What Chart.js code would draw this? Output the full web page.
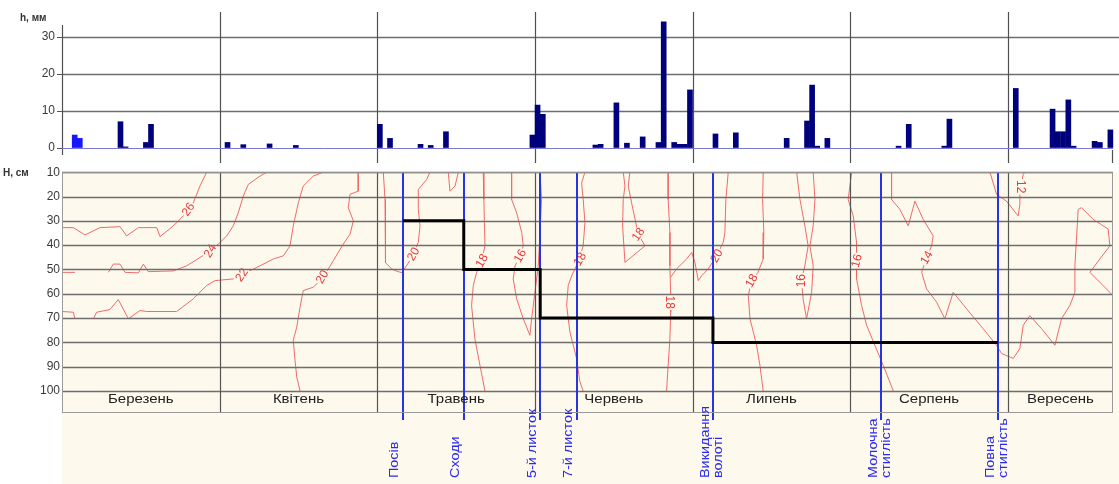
<!DOCTYPE html>
<html><head><meta charset="utf-8">
<script src="https://cdn.jsdelivr.net/npm/chart.js@4.4.1/dist/chart.umd.min.js"></script>
<style>
html,body{margin:0;padding:0;background:#fff;}
#wrap{position:relative;width:1119px;height:484px;overflow:hidden;}
.box{position:absolute;left:0;width:1119px;}
</style></head><body>
<div id="wrap">
 <div class="box" style="top:0;height:165px"><canvas id="c1"></canvas></div>
 <div class="box" style="top:163px;height:321px"><canvas id="c2"></canvas></div>
</div>
<script>
// ---------------- DATA ----------------
const months = ['Березень','Квітень','Травень','Червень','Липень','Серпень','Вересень'];
const monthDays = [31,30,31,30,31,31,30];
const lastDay = '09-20';
const rainTicks = [0,10,20,30];
const depthTicks = [10,20,30,40,50,60,70,80,90,100];

const rainDates = ['03-03','03-04','03-12','03-13','03-17','03-18','04-02','04-05','04-10','04-15',
 '05-01','05-03','05-09','05-11','05-14','05-31','06-01','06-02','06-12','06-13','06-16','06-18',
 '06-21','06-24','06-25','06-27','06-28','06-29','06-30','07-05','07-09','07-19','07-23','07-24',
 '07-25','07-27','08-10','08-12','08-19','08-20','09-02','09-09','09-10','09-11','09-12','09-13',
 '09-17','09-18','09-20'];
const rainMm = [3.5,2.6,7.1,0.3,1.5,6.4,1.5,0.9,1.1,0.7,
 6.4,2.6,1.0,0.7,4.4,3.5,11.6,9.1,0.8,1.0,12.2,1.3,
 3.0,1.5,34.1,1.5,1.0,1.0,15.7,3.8,4.1,2.6,7.3,17.0,
 0.5,2.6,0.5,6.4,0.5,7.8,16.1,10.5,4.4,4.4,13.0,0.5,
 1.8,1.5,4.9];
const snowDates = ['03-03','03-04'];

const stageNames = ['Посів','Сходи','5-й листок','7-й листок','Викидання\nволоті','Молочна\nстиглість','Повна\nстиглість'];
const stageDates = ['05-06','05-18','06-02','06-09','07-05','08-07','08-30'];

const rootDates = ['05-06','05-18','06-02','07-05','08-30'];
const rootDepth = [30,50,70,80,80];

// isolines: [month position, depth cm]
const iso26 = [[0,32.8],[0.072,32.8],[0.146,35.8],[0.241,32.8],[0.368,32.4],[0.410,36.2],[0.484,32.8],[0.601,32.8],[0.622,36.5],[0.706,32.1],[0.769,28.0],[0.833,22.6],[0.875,15.7],[0.918,10]];
const iso24a = [[0,51.2],[0.082,51.2]];
const iso24 = [[0.294,51.2],[0.325,47.8],[0.368,47.8],[0.400,51.2],[0.484,51.4],[0.516,47.8],[0.547,50.9],[0.706,50.6],[0.791,48.5],[0.875,45.1],[0.939,42.3],[0.991,39.6],[1.045,36.2],[1.086,32.1],[1.118,26.7],[1.150,19.8],[1.182,15.0],[1.256,11.6],[1.298,10]];
const iso22a = [[0,67.3],[0.072,67.6],[0.082,70.3]];
const iso22 = [[0.199,70.3],[0.220,67.6],[0.304,66.5],[0.357,62.4],[0.421,70.3],[0.495,66.9],[0.537,67.3],[0.727,67.3],[0.833,62.1],[0.918,56.6],[0.970,54.6],[1.086,53.9],[1.171,51.2],[1.256,48.5],[1.340,45.7],[1.404,44.4],[1.446,40.3],[1.467,32.1],[1.499,22.6],[1.530,15.7],[1.594,11.6],[1.657,10]];
const iso20a = [[1.879,10],[1.879,17.8],[1.827,19.1],[1.816,24.6],[1.848,30.0],[1.827,35.5],[1.784,39.6],[1.721,46.4],[1.657,53.2],[1.594,57.3],[1.530,58.7],[1.510,65.5],[1.489,73.7],[1.467,79.1],[1.478,87.3],[1.489,94.2],[1.510,100]];
const iso20b = [[2.038,10],[2.049,21.2],[2.049,34.8],[2.055,47.2],[2.091,49.8],[2.131,50.9],[2.156,51.3],[2.194,47.6],[2.220,44.8],[2.260,38.9],[2.271,32.1],[2.260,25.3],[2.260,17.1],[2.313,13.0],[2.334,10]];
const isoSmall = [[2.450,10],[2.461,17.8],[2.493,15.7],[2.514,10]];
const iso18a = [[2.672,10],[2.676,21.2],[2.683,40.3],[2.662,46.4],[2.630,51.2],[2.609,56.6],[2.598,64.8],[2.619,78.5],[2.651,89.4],[2.683,100]];
const iso16a = [[2.852,10],[2.852,21.2],[2.884,26.7],[2.916,34.8],[2.926,40.3],[2.905,44.4],[2.874,48.5],[2.862,53.9],[2.884,62.1],[2.926,70.3],[2.968,77.1],[2.979,70.3],[3.000,59.4],[3.021,48.5],[3.032,34.8],[3.042,21.2],[3.032,10]];
const iso18b = [[3.317,10],[3.296,14.4],[3.306,21.2],[3.317,30.7],[3.306,40.3],[3.273,47.2],[3.233,52.6],[3.211,56.6],[3.201,64.8],[3.222,75.8],[3.264,86.6],[3.285,96.2],[3.306,100]];
const iso18c = [[3.560,10],[3.571,15.7],[3.560,21.2],[3.556,32.1],[3.571,47.1],[3.698,40.3],[3.655,35.5],[3.613,22.6],[3.592,15.7],[3.602,10]];
const iso18d = [[3.845,10],[3.845,21.2],[3.856,34.8],[3.856,48.5],[3.861,60.7],[3.861,67.6],[3.856,78.5],[3.845,89.4],[3.835,100]];
const iso20c = [[3.861,53.2],[3.898,49.8],[3.962,45.7],[3.994,43.0],[4.015,47.1],[4.036,54.6],[4.057,52.6],[4.099,49.8],[4.152,44.4],[4.194,38.9],[4.205,34.8],[4.211,21.2],[4.226,10]];
const iso18e = [[4.448,10],[4.444,21.2],[4.452,34.8],[4.448,45.7],[4.414,51.3],[4.374,54.6],[4.353,60.7],[4.364,70.3],[4.406,81.2],[4.427,89.4],[4.448,100]];
const iso16b = [[4.660,10],[4.681,21.2],[4.712,32.1],[4.733,40.3],[4.712,48.5],[4.691,54.6],[4.701,62.1],[4.723,70.3],[4.755,59.4],[4.765,48.5],[4.744,40.3],[4.765,32.1],[4.776,21.2],[4.765,10]];
const iso16c = [[5.009,10],[4.987,21.2],[5.019,28.0],[5.040,38.9],[5.040,46.4],[5.040,53.9],[5.072,64.8],[5.104,73.0],[5.156,81.2],[5.209,89.4],[5.273,100]];
const iso14 = [[5.262,10],[5.262,21.2],[5.315,25.3],[5.368,32.1],[5.410,21.9],[5.463,29.4],[5.526,36.2],[5.516,40.3],[5.484,45.1],[5.453,51.2],[5.484,58.0],[5.548,63.5],[5.600,70.3],[5.653,59.4],[5.738,66.2],[5.843,74.4],[5.928,81.2],[5.960,84.6],[6.034,86.6],[6.076,82.5],[6.097,73.0],[6.139,69.0],[6.214,74.4],[6.298,81.2],[6.340,70.3],[6.393,64.8],[6.425,59.4],[6.425,48.5],[6.446,25.3],[6.467,24.6],[6.541,29.4],[6.636,33.4],[6.647,40.3],[6.583,45.7],[6.520,51.2],[6.604,56.6],[6.667,60.8]];
const iso12 = [[5.886,10],[5.928,19.1],[5.991,21.9],[6.065,28.0],[6.076,23.2],[6.076,19.1],[6.097,10.9],[6.108,10]];

const isoLabelText  = ['26','24','22','20','20','18','16','18','18','18','20','18','16','16','14','12'];
const isoLabelX     = [0.80,0.939,1.14,1.65,2.228,2.662,2.905,3.285,3.655,3.858,4.152,4.374,4.691,5.040,5.484,6.080];
const isoLabelDepth = [25.3,42.3,52.2,53.0,43.7,46.4,44.4,45.7,35.5,63.5,44.4,54.6,54.6,46.4,45.1,16.0];

// ---------------- HELPERS / STYLE ----------------
const isolines = [iso26,iso24a,iso24,iso22a,iso22,iso20a,iso20b,isoSmall,iso18a,iso16a,iso18b,iso18c,iso18d,iso20c,iso18e,iso16b,iso16c,iso14,iso12];
const isoLabelAngle = [-55,-60,-55,-60,-60,-60,-60,-60,-55,90,-60,-60,-90,-75,-60,90];
const F = '"Liberation Sans", Arial, sans-serif';
const CREAM = '#fdf9ec';
const C2TOP = 163;
const G = y => y - C2TOP;
function mIdx(s){return +s.slice(0,2)-3;}
function dayMid(s){const m=mIdx(s),d=+s.slice(3);return m+(d-0.5)/monthDays[m];}
function dayStart(s){const m=mIdx(s),d=+s.slice(3);return m+(d-1)/monthDays[m];}
const xEnd = dayStart(lastDay) + 1/monthDays[mIdx(lastDay)];
function seg(ctx,x1,y1,x2,y2){ctx.beginPath();ctx.moveTo(x1,y1);ctx.lineTo(x2,y2);ctx.stroke();}

// ---------------- TOP CHART ----------------
const topDeco = {
  id:'topDeco',
  beforeDatasetsDraw(ch){
    const ctx=ch.ctx, a=ch.chartArea, x=ch.scales.x, y=ch.scales.y;
    ctx.save();
    ctx.strokeStyle='#6e6e6e'; ctx.lineWidth=1.3;
    rainTicks.forEach(v=>{ if(v===0) return; const py=Math.round(y.getPixelForValue(v))+0.5; seg(ctx,a.left,py,ch.width,py); });
    ctx.strokeStyle='#505050'; ctx.lineWidth=1.2;
    for(let m=1;m<months.length;m++){ const px=Math.round(x.getPixelForValue(m))+0.5; seg(ctx,px,12,px,163); }
    const pe=Math.round(x.getPixelForValue(xEnd))-0.5; seg(ctx,pe,150,pe,163);
    seg(ctx,a.left+0.5,25,a.left+0.5,155);
    ctx.strokeStyle='#7878d8'; ctx.lineWidth=1;
    const p0=Math.round(y.getPixelForValue(0))+0.5; seg(ctx,a.left,p0,a.right,p0);
    ctx.fillStyle='#333'; ctx.font='bold 10px '+F; ctx.textAlign='left'; ctx.textBaseline='middle';
    ctx.fillText('h, мм',20,18);
    ctx.restore();
  }
};
new Chart(document.getElementById('c1'),{
  type:'bar',
  data:{datasets:[{
    data: rainDates.map((d,i)=>({x:dayMid(d), y:rainMm[i]})),
    backgroundColor: rainDates.map(d=>snowDates.includes(d)?'#1818ff':'#00007c'),
    borderWidth:0, barThickness:5, clip:false, grouped:false
  }]},
  options:{
    responsive:true, maintainAspectRatio:false, animation:false, devicePixelRatio:1, events:[],
    plugins:{legend:{display:false}, tooltip:{enabled:false}},
    layout:{padding:{left:0,right:6,top:37,bottom:17}},
    scales:{
      x:{type:'linear', min:0, max:xEnd, display:false, offset:false},
      y:{min:0, max:30,
         afterFit(s){s.width=62;},
         afterBuildTicks(s){s.ticks=rainTicks.map(v=>({value:v}));},
         ticks:{font:{family:F,size:12}, color:'#3a3a3a', padding:2},
         grid:{display:true, drawOnChartArea:false, drawTicks:true, tickLength:5, color:'#555'},
         border:{display:false}}
    }
  },
  plugins:[topDeco]
});

// ---------------- BOTTOM CHART ----------------
const datasets2 = isolines.map(pts=>({
  data: pts.map(p=>({x:p[0], y:p[1]})),
  borderColor:'#f06a6a', borderWidth:1, pointRadius:0, tension:0, fill:false, order:1
}));
datasets2.push({
  data: rootDates.map((d,i)=>({x:dayStart(d), y:rootDepth[i]})),
  borderColor:'#000', borderWidth:3, pointRadius:0, stepped:'before', fill:false, order:-1
});
const rootIndex = datasets2.length-1;

const botDeco = {
  id:'botDeco',
  beforeDatasetsDraw(ch){
    const ctx=ch.ctx, a=ch.chartArea;
    ctx.save(); ctx.fillStyle=CREAM; ctx.fillRect(a.left,a.top,ch.width-a.left,ch.height-a.top); ctx.restore();
  },
  beforeDatasetDraw(ch,args){
    if(args.index!==rootIndex) return;
    const ctx=ch.ctx, a=ch.chartArea, x=ch.scales.x, y=ch.scales.y;
    ctx.save();
    // isoline labels
    ctx.font='12px '+F; ctx.textAlign='center'; ctx.textBaseline='middle';
    isoLabelText.forEach((t,i)=>{
      const px=x.getPixelForValue(isoLabelX[i]), py=y.getPixelForValue(isoLabelDepth[i]);
      ctx.save(); ctx.translate(px,py); ctx.rotate(isoLabelAngle[i]*Math.PI/180);
      const w=ctx.measureText(t).width;
      ctx.fillStyle=CREAM; ctx.fillRect(-w/2-1,-5,w+2,10);
      ctx.fillStyle='#e83838'; ctx.fillText(t,0,0.5);
      ctx.restore();
    });
    // grid lines
    ctx.strokeStyle='#6e6e6e'; ctx.lineWidth=1.3;
    depthTicks.forEach(v=>{ const py=Math.round(y.getPixelForValue(v))+0.5; seg(ctx,a.left,py,a.right,py); });
    // month separators
    ctx.strokeStyle='#555'; ctx.lineWidth=1.2;
    for(let m=1;m<months.length;m++){ const px=Math.round(x.getPixelForValue(m))+0.5; seg(ctx,px,a.top,px,G(412)); }
    // stage lines
    ctx.strokeStyle='#2633e6'; ctx.lineWidth=2;
    stageDates.forEach(d=>{ const px=Math.round(x.getPixelForValue(dayStart(d))); seg(ctx,px,a.top,px,G(420)); });
    ctx.restore();
  },
  afterDraw(ch){
    const ctx=ch.ctx, a=ch.chartArea, x=ch.scales.x;
    ctx.save();
    ctx.strokeStyle='#9a9a9a'; ctx.lineWidth=1;
    ctx.strokeRect(a.left+0.5,a.top+0.5,a.right-a.left-1,G(412)-a.top);
    // month labels
    ctx.fillStyle='#222'; ctx.font='12px '+F; ctx.textAlign='center'; ctx.textBaseline='middle';
    months.forEach((mn,m)=>{
      const c=(m+Math.min(m+1,xEnd))/2;
      ctx.save(); ctx.translate(x.getPixelForValue(c),G(400)); ctx.scale(1.25,1); ctx.fillText(mn,0,0); ctx.restore();
    });
    // stage labels
    ctx.fillStyle='#2a2af0'; ctx.textAlign='left';
    stageNames.forEach((nm,i)=>{
      const px=x.getPixelForValue(dayStart(stageDates[i]));
      const lines=nm.split('\n');
      const offs=lines.length===1?[-8]:[-7,6];
      lines.forEach((t,j)=>{
        ctx.save(); ctx.translate(px+offs[j],G(478)); ctx.rotate(-Math.PI/2); ctx.scale(1.2,1);
        ctx.fillText(t,0,0); ctx.restore();
      });
    });
    // axis title
    ctx.fillStyle='#333'; ctx.font='bold 10px '+F; ctx.textAlign='left';
    ctx.fillText('H, см',3,a.top+1);
    ctx.restore();
  }
};

new Chart(document.getElementById('c2'),{
  type:'line',
  data:{datasets:datasets2},
  options:{
    responsive:true, maintainAspectRatio:false, animation:false, devicePixelRatio:1, events:[],
    plugins:{legend:{display:false}, tooltip:{enabled:false}},
    layout:{padding:{left:0,right:6,top:8,bottom:93}},
    scales:{
      x:{type:'linear', min:0, max:xEnd, display:false},
      y:{reverse:true, min:10, max:100,
         afterFit(s){s.width=62;},
         afterBuildTicks(s){s.ticks=depthTicks.map(v=>({value:v}));},
         ticks:{font:{family:F,size:12}, color:'#3a3a3a', padding:2},
         grid:{display:false, drawTicks:false},
         border:{display:false}}
    }
  },
  plugins:[botDeco]
});
</script>
</body></html>
